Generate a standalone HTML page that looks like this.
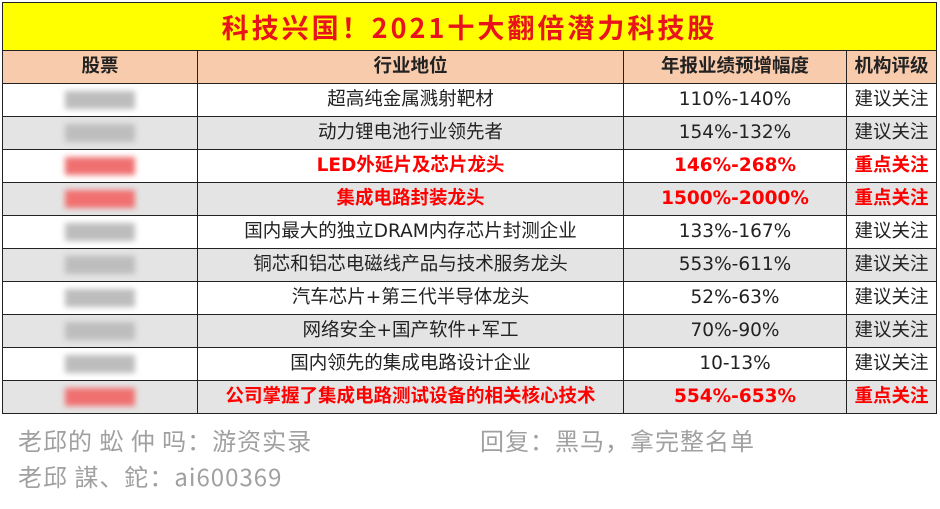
<!DOCTYPE html>
<html><head><meta charset="utf-8"><style>
body{margin:0;width:940px;height:509px;background:#fff;position:relative;overflow:hidden;font-family:"DejaVu Sans","Noto Sans CJK SC",sans-serif;}
table{position:absolute;left:2px;top:2px;border-collapse:collapse;width:934px;table-layout:fixed;}
td{border:1px solid #222;text-align:center;padding:0;font-size:18.5px;color:#222;height:32px;line-height:32px;white-space:nowrap;overflow:hidden;}
.t td{height:47px;line-height:47px;background:#ffff00;color:#e8141c;font-size:27px;font-family:"Noto Sans CJK SC",sans-serif;font-weight:bold;letter-spacing:3px;}
.h td{background:#f8cbad;font-weight:bold;font-size:18.5px;}
tr.g td{background:#e4e4e4;}
.r td{color:#ff0000;font-weight:bold;}
.b{display:inline-block;width:70px;height:18px;background:#bdbdbd;filter:blur(3px);vertical-align:middle;}
.r .b{background:#f07070;}
.f{position:absolute;color:#a0a0a0;font-size:24px;letter-spacing:1px;font-family:"Noto Sans CJK SC",sans-serif;}
</style></head><body>
<table>
<colgroup><col style="width:195px"><col style="width:426px"><col style="width:223px"><col style="width:90px"></colgroup>
<tr class="t"><td colspan="4">科技兴国！2021十大翻倍潜力科技股</td></tr>
<tr class="h"><td>股票</td><td>行业地位</td><td>年报业绩预增幅度</td><td>机构评级</td></tr>
<tr><td><span class="b"></span></td><td>超高纯金属溅射靶材</td><td>110%-140%</td><td>建议关注</td></tr>
<tr class="g"><td><span class="b"></span></td><td>动力锂电池行业领先者</td><td>154%-132%</td><td>建议关注</td></tr>
<tr class="r"><td><span class="b"></span></td><td>LED外延片及芯片龙头</td><td>146%-268%</td><td>重点关注</td></tr>
<tr class="g r"><td><span class="b"></span></td><td>集成电路封装龙头</td><td>1500%-2000%</td><td>重点关注</td></tr>
<tr><td><span class="b"></span></td><td>国内最大的独立DRAM内存芯片封测企业</td><td>133%-167%</td><td>建议关注</td></tr>
<tr class="g"><td><span class="b"></span></td><td>铜芯和铝芯电磁线产品与技术服务龙头</td><td>553%-611%</td><td>建议关注</td></tr>
<tr><td><span class="b"></span></td><td>汽车芯片+第三代半导体龙头</td><td>52%-63%</td><td>建议关注</td></tr>
<tr class="g"><td><span class="b"></span></td><td>网络安全+国产软件+军工</td><td>70%-90%</td><td>建议关注</td></tr>
<tr><td><span class="b"></span></td><td>国内领先的集成电路设计企业</td><td>10-13%</td><td>建议关注</td></tr>
<tr class="g r"><td><span class="b"></span></td><td>公司掌握了集成电路测试设备的相关核心技术</td><td>554%-653%</td><td>重点关注</td></tr>
</table>
<div class="f" style="left:18px;top:422px">老邱的 蚣 仲 吗：游资实录</div>
<div class="f" style="left:480px;top:422px">回复：黑马，拿完整名单</div>
<div class="f" style="left:18px;top:458px">老邱 謀、鉈：ai600369</div>
</body></html>
